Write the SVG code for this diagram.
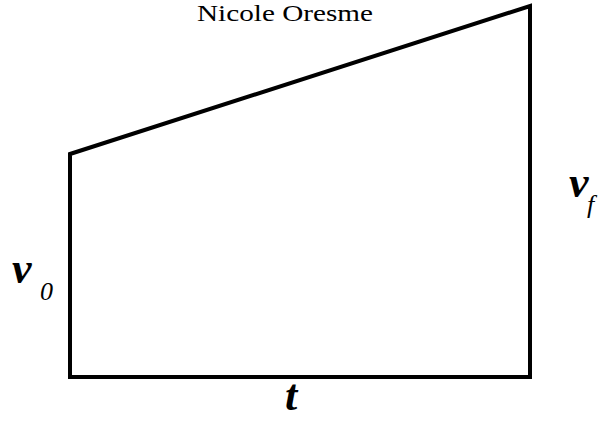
<svg xmlns="http://www.w3.org/2000/svg" width="601" height="421" viewBox="0 0 601 421">
<style>
.title{font-size:23px;fill:#000}
.var{font-style:italic;font-weight:bold;font-size:44px;fill:#000}
.sub{font-style:italic;font-size:26px;fill:#000}
.shape{fill:#fff;stroke:#000;stroke-width:4;stroke-linejoin:miter}
</style>
<rect width="601" height="421" fill="#fff"/>
<g id="connectors">
<polygon id="trapezoid" class="shape" points="70,154 530,6 530,377 70,377"/>
</g>
<g id="title"><text class="title" font-family="Liberation Serif, serif" x="285" y="21" text-anchor="middle" textLength="176" lengthAdjust="spacingAndGlyphs">Nicole Oresme</text></g>
<g id="v0"><text class="var" font-family="Liberation Serif, serif" x="12" y="283">v</text><text class="sub" font-family="Liberation Serif, serif" x="40" y="300">0</text></g>
<g id="vf"><text class="var" font-family="Liberation Serif, serif" x="569" y="197">v</text><text class="sub" font-family="Liberation Serif, serif" x="587" y="213">f</text></g>
<g id="t"><text class="var" font-family="Liberation Serif, serif" font-size="40" x="285" y="410">t</text></g>
</svg>
